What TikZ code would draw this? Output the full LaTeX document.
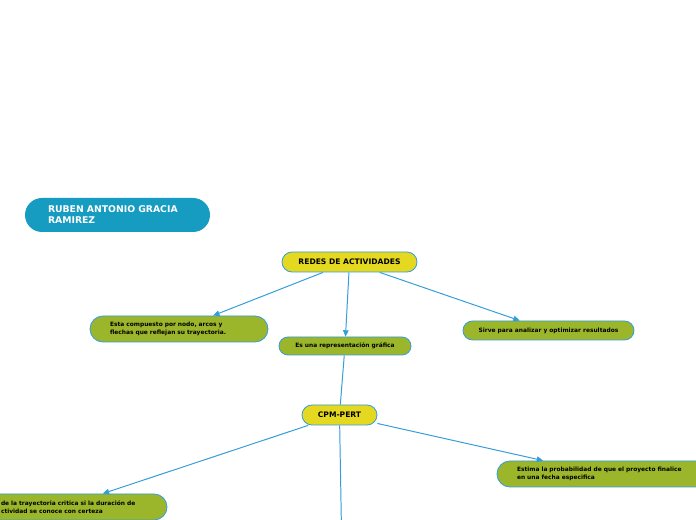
\documentclass[tikz,border=0pt]{standalone}
\usepackage{fontspec}
\setmainfont{DejaVu Sans}
\usetikzlibrary{arrows.meta}
\definecolor{rootclr}{RGB}{22,155,193}
\definecolor{mainclr}{RGB}{228,216,32}
\definecolor{leafclr}{RGB}{156,182,44}
\definecolor{edgeclr}{RGB}{52,158,218}

\begin{document}
\begin{tikzpicture}[
    pillbox/.style={draw=edgeclr, line width=0.6pt, inner sep=0pt, rounded corners=#1},
    titlebox/.style={pillbox=0.25cm, fill=mainclr, align=center, minimum height=0.5cm,
        font=\fontsize{5.4}{6.5}\selectfont\bfseries},
    notebox/.style={pillbox=#1, fill=leafclr, align=center,
        font=\fontsize{4.2}{5.7}\selectfont\bfseries},
    widebox/.style={pillbox=0.325cm, fill=leafclr, align=left, inner xsep=0.5cm,
        minimum height=0.65cm, font=\fontsize{4.2}{5.7}\selectfont\bfseries},
    linkline/.style={draw=edgeclr, line width=0.7pt},
    linkarrow/.style={linkline, -{Triangle[length=4.5pt, width=4pt]}}
  ]
  \useasboundingbox (0,0) rectangle (17.4,-13);
  \fill[white] (0,0) rectangle (17.4,-13);
  \clip (0,0) rectangle (17.4,-13);

  % name
  \node[fill=rootclr, rounded corners=0.425cm, inner sep=0pt, inner xsep=0.575cm,
        text width=3.475cm, minimum height=0.85cm, align=left,
        font=\fontsize{6.6}{7.8}\selectfont\bfseries, text=white]
    (ruben) at (2.9375,-5.375) {RUBEN ANTONIO GRACIA\\RAMIREZ};

  % first level
  \node[titlebox, minimum width=3.375cm] (redes) at (8.7375,-6.55) {REDES DE ACTIVIDADES};
  \node[widebox, text width=3.45cm] (esta) at (4.475,-8.225)
    {Esta compuesto por nodo, arcos y\\flechas que reflejan su trayectoria.};
  \node[notebox=0.225cm, minimum width=3.3cm, minimum height=0.45cm] (grafica) at (8.625,-8.65)
    {Es una representación gráfica};
  \node[notebox=0.2375cm, minimum width=4.275cm, minimum height=0.475cm] (sirve) at (13.7125,-8.2625)
    {Sirve para analizar y optimizar resultados};

  % second level
  \node[titlebox, minimum width=1.875cm] (cpm) at (8.4875,-10.375) {CPM-PERT};
  \node[widebox, text width=3.65cm] (cpmtxt) at (1.85,-12.675)
    {de la trayectoria critica si la duración de\\ctividad se conoce con certeza};
  \node[widebox, text width=4.3cm] (pert) at (15.075,-11.85)
    {Estima la probabilidad de que el proyecto finalice\\en una fecha especifica};
  \coordinate (cpmdown) at (8.55,-14);

  \draw[linkarrow] (redes) -- (esta);
  \draw[linkarrow] (redes) -- (grafica);
  \draw[linkarrow] (redes) -- (sirve);
  \draw[linkline] (grafica) -- (cpm);
  \draw[linkarrow] (cpm) -- (cpmtxt.25.7);
  \draw[linkarrow] (cpm) -- (pert);
  \draw[linkarrow] (cpm) -- (cpmdown);
\end{tikzpicture}
\end{document}
